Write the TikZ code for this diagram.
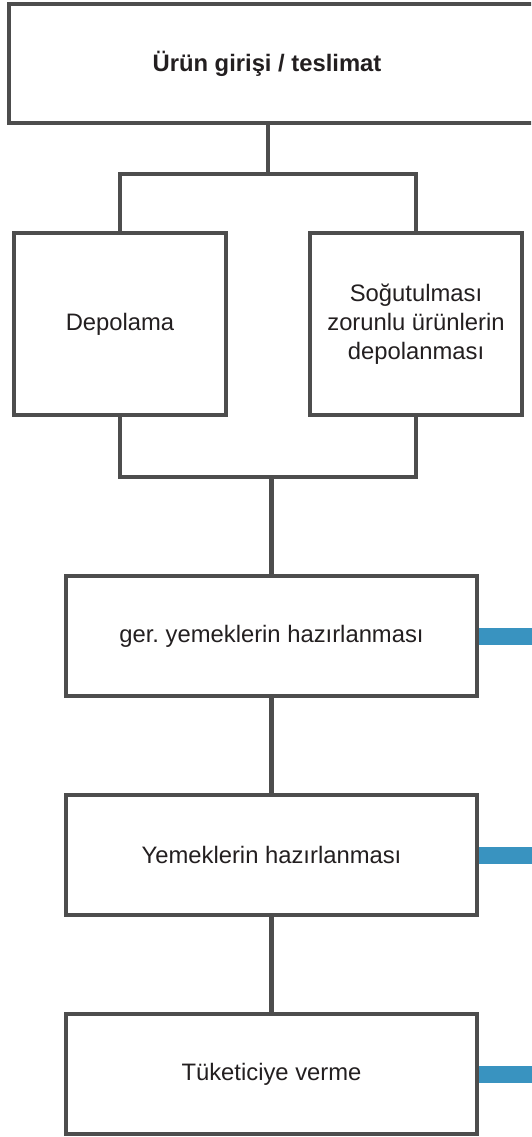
\documentclass[tikz,border=0pt]{standalone}
\usepackage{fontspec}
\setmainfont{Liberation Sans}
\usepackage{tikz}
\usetikzlibrary{backgrounds}
\definecolor{edge}{HTML}{4D4D4D}
\definecolor{ink}{HTML}{231F20}
\definecolor{flow}{HTML}{3993C0}
\tikzset{
  box/.style={draw=edge,fill=white,line width=4.3pt,text=ink,align=center,inner sep=0pt,outer sep=0pt,
    font=\fontsize{23.8}{29}\selectfont\frenchspacing},
  link/.style={draw=edge,line width=4.3pt},
  flowbar/.style={draw=flow,line width=17pt}
}

\begin{document}
\begin{tikzpicture}[x=1pt,y=-1pt]
\useasboundingbox (0,0) rectangle (531,1137);
\clip (0,0) rectangle (531,1137);
\node[box,minimum width=530pt,minimum height=119.5pt,font=\fontsize{23.8}{29}\selectfont\bfseries] (in) at (274,63.5) {Ürün girişi / teslimat\kern14pt};
\node[box,minimum width=212pt,minimum height=182pt] (dep) at (120,324) {Depolama};
\node[box,minimum width=212pt,minimum height=182pt] (cold) at (416,324) {Soğutulması\\zorunlu ürünlerin\\depolanması};
\node[box,minimum width=411pt,minimum height=120pt] (ger) at (271.5,636) {ger. yemeklerin hazırlanması};
\node[box,minimum width=411pt,minimum height=120pt] (yem) at (271.5,855) {Yemeklerin hazırlanması};
\node[box,minimum width=411pt,minimum height=120pt] (tuk) at (271.5,1074) {Tüketiciye verme};
\coordinate (split) at (268,174);
\coordinate (merge) at (ger.north |- 0,477);
\draw[link] (split |- in.south) -- (split);
\draw[link] (dep.north) |- (split) -| (cold.north);
\draw[link] (dep.south) |- (merge) -| (cold.south);
\draw[link] (merge) -- (ger.north);
\draw[link] (ger.south) -- (yem.north);
\draw[link] (yem.south) -- (tuk.north);
\begin{scope}[on background layer]
\foreach \s in {ger,yem,tuk}{
    \path (\s.east) ++(70,0) coordinate (\s-out);
    \draw[flowbar] (\s.east) -- (\s-out);
}
\end{scope}
\end{tikzpicture}
\end{document}
